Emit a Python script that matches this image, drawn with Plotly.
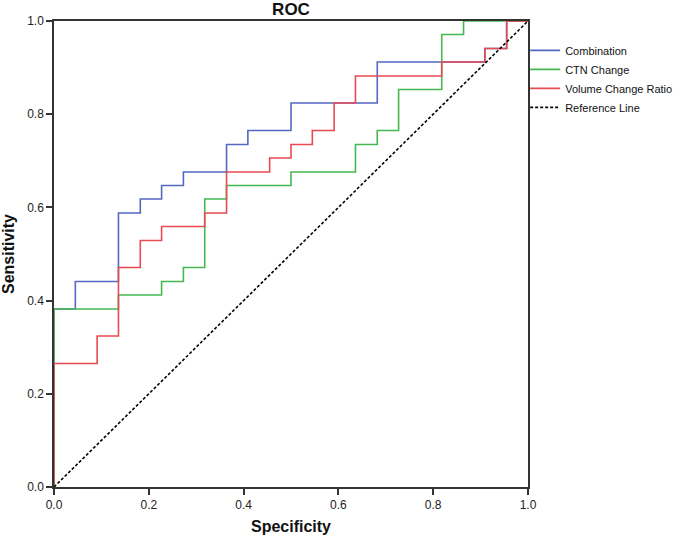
import plotly.graph_objects as go

# ROC step vertices (horizontal-then-vertical steps)
comb_x = [0, 0, 0.045, 0.136, 0.182, 0.227, 0.273, 0.364, 0.409, 0.500, 0.682, 0.909, 0.955, 1.0]
comb_y = [0, 0.382, 0.441, 0.588, 0.618, 0.647, 0.676, 0.735, 0.765, 0.824, 0.912, 0.941, 1.0, 1.0]

ctn_x = [0, 0, 0.136, 0.227, 0.273, 0.318, 0.364, 0.500, 0.636, 0.682, 0.727, 0.818, 0.864, 1.0]
ctn_y = [0, 0.382, 0.412, 0.441, 0.471, 0.618, 0.647, 0.676, 0.735, 0.765, 0.853, 0.971, 1.0, 1.0]

vol_x = [0, 0, 0.091, 0.136, 0.182, 0.227, 0.318, 0.364, 0.455, 0.500, 0.545, 0.591, 0.636, 0.818, 0.909, 0.955, 1.0]
vol_y = [0, 0.265, 0.324, 0.471, 0.529, 0.559, 0.588, 0.676, 0.706, 0.735, 0.765, 0.824, 0.882, 0.912, 0.941, 1.0, 1.0]

ref_x = [0, 1]
ref_y = [0, 1]

tick_vals = [0, 0.2, 0.4, 0.6, 0.8, 1.0]
tick_text = ["0.0", "0.2", "0.4", "0.6", "0.8", "1.0"]

FONT = "Liberation Sans, Arial"

fig = go.Figure()
fig.add_trace(go.Scatter(x=comb_x, y=comb_y, mode="lines", name="Combination",
                         line=dict(color="#5468c2", width=1.6, shape="hv")))
fig.add_trace(go.Scatter(x=ctn_x, y=ctn_y, mode="lines", name="CTN Change",
                         line=dict(color="#45b852", width=1.6, shape="hv")))
fig.add_trace(go.Scatter(x=vol_x, y=vol_y, mode="lines", name="Volume Change Ratio",
                         line=dict(color="#e84a52", width=1.6, shape="hv")))
fig.add_trace(go.Scatter(x=ref_x, y=ref_y, mode="lines", name="Reference Line",
                         line=dict(color="black", width=1.6, dash="3px,2px")))

axis_common = dict(
    range=[0, 1], tickvals=tick_vals, ticktext=tick_text, automargin=True,
    showgrid=False, zeroline=False, showline=True, linecolor="#333333", linewidth=1.5,
    mirror=True, ticks="outside", ticklen=6, tickcolor="#333333", tickwidth=1.5,
    tickfont=dict(family=FONT, size=12, color="#222222"),
)

fig.update_layout(
    width=685, height=538,
    margin=dict(l=54, r=157, t=21, b=51, autoexpand=False),
    paper_bgcolor="white", plot_bgcolor="white",
    title=dict(text="<b>ROC</b>", x=0.5, xref="paper", xanchor="center",
               y=1, yref="paper", yanchor="bottom", pad=dict(b=6),
               font=dict(family=FONT, size=17, color="#111111")),
    xaxis=dict(title=dict(text="<b>Specificity</b>", standoff=10,
                          font=dict(family=FONT, size=16, color="#111111")),
               **axis_common),
    yaxis=dict(title=dict(text="<b>Sensitivity</b>", standoff=9,
                          font=dict(family=FONT, size=16, color="#111111")),
               **axis_common),
    legend=dict(x=0.994, xanchor="left", y=0.968, yanchor="top",
                font=dict(family=FONT, size=11, color="#111111"),
                bgcolor="rgba(0,0,0,0)", itemwidth=30, tracegroupgap=0),
    showlegend=True,
)

# remove the default 8px page margin so the figure fills the window exactly
fig.write_html("out.html", config={"displayModeBar": False},
               post_script="document.body.style.margin='0';")
